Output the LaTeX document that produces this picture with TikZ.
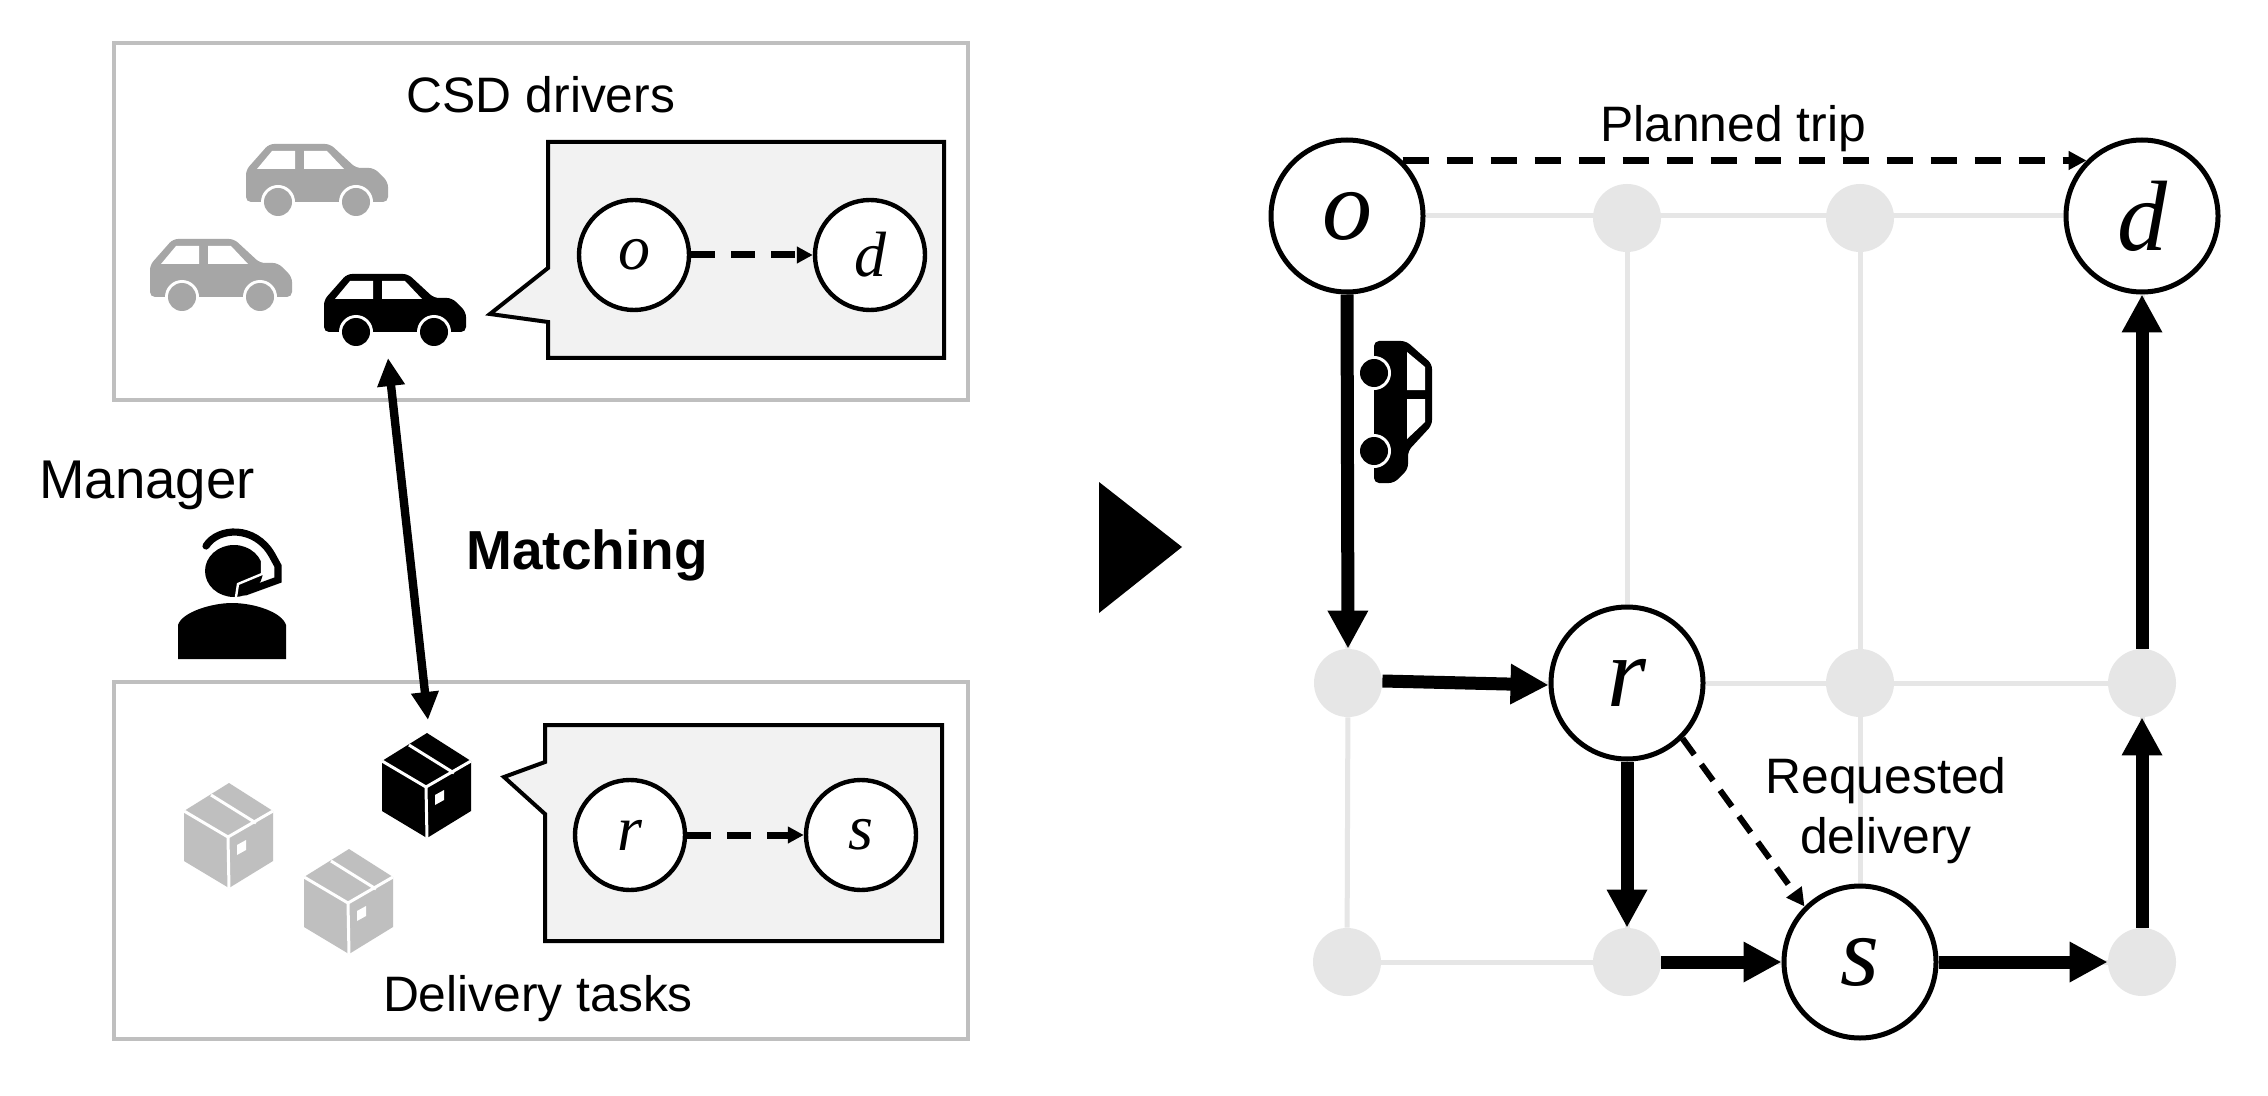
\documentclass[tikz,border=0pt]{standalone}
\usepackage{fontspec}
\setmainfont{Liberation Sans}
\newfontfamily\lett{Liberation Serif}
\usetikzlibrary{arrows.meta,backgrounds}
\tikzset{
  x=0.5pt,y=-0.5pt,
  bigc/.style={circle,draw=black,fill=white,line width=2.5pt,minimum size=76pt,inner sep=0pt,font=\lett\itshape\fontsize{50}{50}\selectfont},
  smallc/.style={circle,draw=black,fill=white,line width=2.2pt,minimum size=55pt,inner sep=0pt,font=\lett\itshape\fontsize{32}{32}\selectfont},
  grayc/.style={circle,fill=nodegray,minimum size=34pt,inner sep=0pt},
  gridline/.style={draw=nodegray,line width=2.5pt},
  thick arrow/.style={draw=black,line width=6.5pt,-{Triangle[length=19pt,width=19pt]}},
  dash big/.style={draw=black,line width=3.8pt,dash pattern=on 13pt off 9pt,-{Triangle[length=9pt,width=9pt]}},
  dash small/.style={draw=black,line width=3.5pt,dash pattern=on 12pt off 8pt,-{Triangle[length=8pt,width=8pt]}},
  dash req/.style={draw=black,line width=3pt,dash pattern=on 10pt off 6pt,-{Triangle[length=9pt,width=9pt]}},
  match arrow/.style={draw=black,line width=4.2pt,{Triangle[length=14pt,width=13pt]}-{Triangle[length=14pt,width=13pt]}},
  panel/.style={draw=panelgray,line width=2pt},
  callout/.style={draw=black,fill=calloutfill,line width=2pt,line join=miter},
  label text/.style={font=\fontsize{24.9}{30}\selectfont,inner sep=0pt,align=center},
  carpic/.pic={
    \fill[#1,rounded corners=2.5pt] (23,0) -- (84,0) -- (110,24) -- (128,24) -- (142,38) -- (142,58) -- (0,58) -- (0,26) -- cycle;
    \fill[white] (11,25) -- (26,7) -- (49,7) -- (49,25) -- cycle;
    \fill[white] (58,25) -- (58,7) -- (81,7) -- (98,25) -- cycle;
    \fill[white] (32,58) circle[radius=17];
    \fill[white] (110,58) circle[radius=17];
    \fill[#1] (32,58) circle[radius=14];
    \fill[#1] (110,58) circle[radius=14];
  },
  boxpic/.pic={
    \fill[#1] (45,0) -- (89,28) -- (89,78) -- (45,105) -- (0,78) -- (0,28) -- cycle;
    \draw[white,line width=1.5pt] (0,28) -- (44,54) -- (89,28);
    \draw[white,line width=1.5pt] (44,54) -- (45,105);
    \draw[white,line width=1.5pt] (27,12) -- (72,40);
    \fill[white] (53,62) -- (62,57) -- (62,67) -- (53,72) -- cycle;
  },
}
\definecolor{nodegray}{HTML}{E6E6E6}
\definecolor{panelgray}{HTML}{BFBFBF}
\definecolor{calloutfill}{HTML}{F2F2F2}
\definecolor{cargray}{HTML}{A6A6A6}
\definecolor{boxgray}{HTML}{BFBFBF}
\begin{document}
\begin{tikzpicture}
\useasboundingbox (0,0) rectangle (2268,1096);
% left panels
\draw[panel] (114,43) rectangle (968,400);
\draw[panel] (114,682) rectangle (968,1039);
\draw[callout] (548,142) -- (944,142) -- (944,358) -- (548,358) -- (548,322) -- (490,314) -- (548,268) -- cycle;
\draw[callout] (545,725) -- (942,725) -- (942,941) -- (545,941) -- (545,814) -- (504,777) -- (545,762) -- cycle;
\node[label text] (csd) at (541,95) {CSD drivers};
\node[label text] (tasks) at (538,999) {Delivery tasks};
\node[label text,font=\fontsize{27.3}{30}\selectfont] (manager) at (147,485) {Manager};
\node[label text,font=\bfseries\fontsize{27.5}{30}\selectfont] (matching) at (587,555) {Matching};
\pic at (246,144) {carpic=cargray};
\pic at (150,239) {carpic=cargray};
\pic at (324,274) {carpic=black};
\pic at (184,783) {boxpic=boxgray};
\pic at (304,849) {boxpic=boxgray};
\pic at (382,733) {boxpic=black};
\node[smallc] (o2) at (634,255) {o};
\node[smallc] (d2) at (870,255) {d};
\node[smallc] (r2) at (630,835) {r};
\node[smallc] (s2) at (861,835) {s};
\draw[dash small] (o2) -- (d2);
\draw[dash small] (r2) -- (s2);
\coordinate (carend) at (388,358);
\coordinate (boxend) at (428,720);
\draw[match arrow] (carend) -- (boxend);
% manager icon
\fill[black] (178,659) -- (178,625) .. controls (182,612) and (212,603) .. (232,603) .. controls (254,603) and (282,612) .. (286,625) -- (286,659) -- cycle;
\fill[black] (234,571) ellipse[x radius=29,y radius=26];
\draw[black,line width=3.6pt,line cap=round] (206,546) .. controls (218,527) and (255,525) .. (272,555) -- (278,566) -- (278,580) -- (245,592);
\draw[white,line width=1.2pt] (262,558) -- (262,574) -- (238,584) -- (236,597);
% big triangle
\fill[black] (1099,482) -- (1182,547) -- (1099,613) -- cycle;
% network nodes
\node[bigc] (o) at (1347,216) {o};
\node[bigc] (d) at (2142,216) {d};
\node[bigc] (r) at (1627,683) {r};
\node[bigc] (s) at (1860,962) {s};
\node[grayc] (n12) at (1627,218) {};
\node[grayc] (n13) at (1860,218) {};
\node[grayc] (n21) at (1348,683) {};
\node[grayc] (n23) at (1860,683) {};
\node[grayc] (n24) at (2142,683) {};
\node[grayc] (n31) at (1347,962) {};
\node[grayc] (n32) at (1627,962) {};
\node[grayc] (n34) at (2142,962) {};
\begin{scope}[on background layer]
\fill[white] (0,0) rectangle (2268,1096);
\draw[gridline] (o) -- (d);
\draw[gridline] (n21) -- (r) -- (n23) -- (n24);
\draw[gridline] (n31) -- (n32) -- (s) -- (n34);
\draw[gridline] (o) -- (n21) -- (n31);
\draw[gridline] (n12) -- (r) -- (n32);
\draw[gridline] (n13) -- (n23) -- (s);
\draw[gridline] (d) -- (n24) -- (n34);
\end{scope}
\draw[thick arrow] (o.south) -- (n21.north);
\draw[thick arrow] ([yshift=1pt]n21.east) -- ([yshift=-1pt]r.west);
\draw[thick arrow] (r.south) -- (n32.north);
\draw[thick arrow] (n32.east) -- (s.west);
\draw[thick arrow] (s.east) -- (n34.west);
\draw[thick arrow] (n34.north) -- (n24.south);
\draw[thick arrow] (n24.north) -- (d.south);
\draw[dash big] (o.45) -- (d.135);
\draw[dash req] (r.-45) -- (s.135);
\node[label text] (planned) at (1733,129) {Planned trip};
\node[label text] (requested) at (1886,811) {Requested\\delivery};
\pic[rotate=-90] at (1432,341) {carpic=black};
\end{tikzpicture}
\end{document}
